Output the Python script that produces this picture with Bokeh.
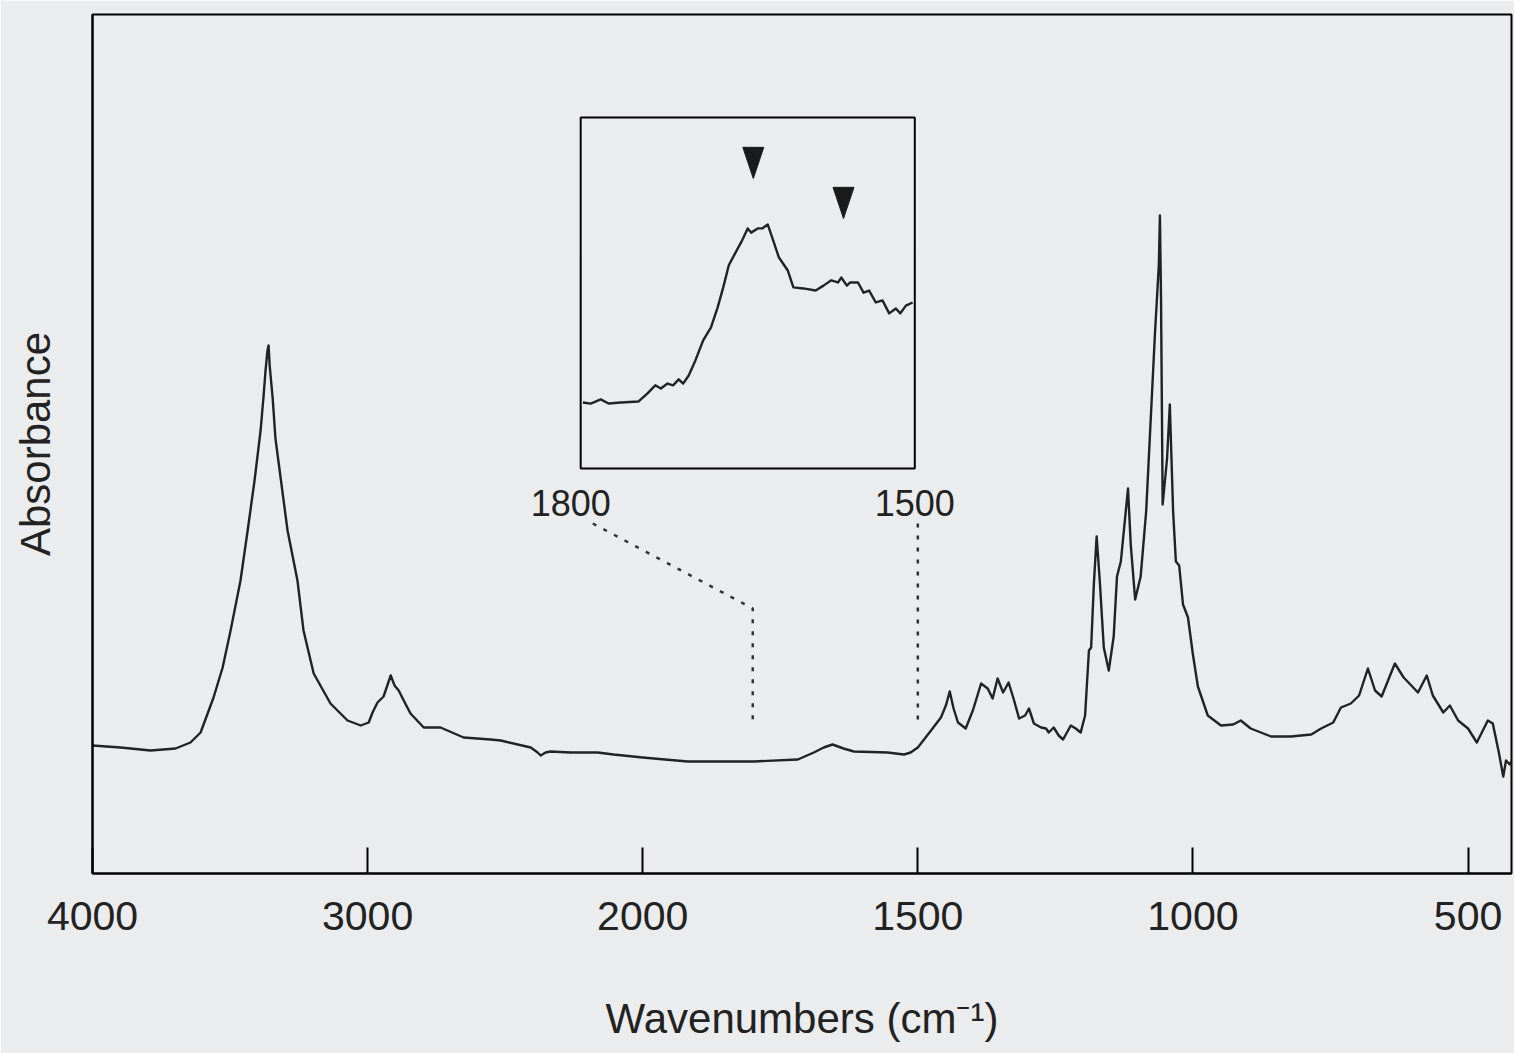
import numpy as np
from bokeh.plotting import figure
from bokeh.models import Range1d, FixedTicker
from bokeh.core.properties import value
from bokeh.embed import file_html
from bokeh.resources import INLINE

# ---------------- data ----------------
wavenumber = [4000, 3898, 3789, 3698, 3644, 3607, 3560, 3527, 3498, 3462, 3436, 3411, 3389, 3378,
              3371, 3364, 3360, 3356, 3345, 3335, 3291, 3255, 3233, 3196, 3135, 3073, 3025, 2996,
              2982, 2964, 2942, 2916, 2902, 2887, 2865, 2844, 2796, 2735, 2651, 2553, 2516, 2407,
              2382, 2371, 2353, 2335, 2262, 2164, 2106, 2000, 1980, 1918, 1798, 1718, 1689, 1671,
              1655, 1635, 1616, 1555, 1525, 1513, 1500, 1476, 1458, 1449, 1442, 1435, 1427, 1413,
              1400, 1385, 1373, 1364, 1355, 1345, 1335, 1325, 1316, 1305, 1298, 1289, 1276, 1267,
              1262, 1253, 1244, 1236, 1229, 1222, 1213, 1204, 1196, 1189, 1185, 1180, 1175, 1169,
              1162, 1153, 1144, 1138, 1131, 1118, 1113, 1105, 1095, 1085, 1076, 1069, 1062, 1060,
              1058, 1055, 1047, 1042, 1036, 1031, 1025, 1018, 1009, 1000, 991, 973, 949, 927, 913,
              895, 858, 822, 785, 767, 745, 731, 713, 698, 682, 669, 657, 633, 617, 591, 575, 564,
              545, 533, 518, 500, 484, 464, 455, 444, 436, 431, 424, 421]
absorbance = [0.128, 0.126, 0.123, 0.125, 0.131, 0.141, 0.176, 0.206, 0.243, 0.293, 0.343, 0.393, 0.443, 0.478,
              0.503, 0.523, 0.528, 0.508, 0.475, 0.435, 0.343, 0.293, 0.243, 0.200, 0.170, 0.153, 0.148, 0.151,
              0.161, 0.171, 0.177, 0.198, 0.188, 0.183, 0.171, 0.160, 0.146, 0.146, 0.136, 0.134, 0.133, 0.126,
              0.121, 0.118, 0.121, 0.122, 0.121, 0.121, 0.119, 0.116, 0.115, 0.112, 0.112, 0.114, 0.121, 0.126,
              0.129, 0.125, 0.122, 0.121, 0.119, 0.121, 0.126, 0.143, 0.156, 0.168, 0.182, 0.165, 0.151, 0.145,
              0.163, 0.190, 0.185, 0.175, 0.195, 0.181, 0.191, 0.173, 0.155, 0.158, 0.165, 0.150, 0.146, 0.145,
              0.141, 0.146, 0.138, 0.134, 0.141, 0.148, 0.145, 0.141, 0.158, 0.223, 0.226, 0.290, 0.337, 0.290,
              0.226, 0.203, 0.237, 0.297, 0.312, 0.385, 0.329, 0.274, 0.297, 0.362, 0.462, 0.540, 0.608, 0.658,
              0.576, 0.369, 0.415, 0.469, 0.362, 0.312, 0.308, 0.269, 0.256, 0.219, 0.187, 0.158, 0.148, 0.149, 0.153,
              0.145, 0.137, 0.137, 0.139, 0.145, 0.151, 0.166, 0.170, 0.178, 0.205, 0.183, 0.177, 0.210, 0.196, 0.181, 0.198, 0.178,
              0.161, 0.168, 0.153, 0.145, 0.131, 0.153, 0.150, 0.121, 0.097, 0.113, 0.109, 0.112]

inset_wavenumber = [1798, 1791, 1782, 1775, 1764, 1748, 1740, 1733, 1728, 1722, 1717, 1712, 1708, 1703,
                    1697, 1690, 1683, 1677, 1672, 1667, 1661, 1655, 1650, 1647, 1641, 1637, 1632, 1628,
                    1622, 1614, 1609, 1600, 1589, 1582, 1575, 1569, 1566, 1561, 1558, 1551, 1546, 1541,
                    1535, 1529, 1523, 1517, 1513, 1508, 1502]
inset_absorbance = [0.188, 0.185, 0.197, 0.185, 0.188, 0.191, 0.214, 0.237, 0.228, 0.242, 0.237, 0.254, 0.242, 0.265,
                    0.308, 0.365, 0.402, 0.459, 0.516, 0.579, 0.615, 0.650, 0.684, 0.672, 0.684, 0.684, 0.695, 0.658,
                    0.601, 0.564, 0.516, 0.513, 0.507, 0.521, 0.536, 0.530, 0.544, 0.521, 0.530, 0.530, 0.501, 0.507,
                    0.473, 0.479, 0.442, 0.456, 0.442, 0.464, 0.473]

arrow_wavenumber = [1645, 1564]
arrow_tip_level = [0.826, 0.712]

tick_values = [4000, 3000, 2000, 1500, 1000, 500]
tick_labels = ["4000", "3000", "2000", "1500", "1000", "500"]
inset_tick_values = [1800, 1500]
inset_tick_labels = ["1800", "1500"]

# ---------------- styling / layout constants ----------------
PAPER = "#ebeced"
INK = "#222222"
FONT = "Liberation Sans"
X_START, X_END = 4000, 421
INSET_X = (1800, 1500)
INSET_TARGET_X = (1.7745, 2.989)
INSET_TARGET_Y = (0.405, 0.756)
ARROW_HALF_WIDTH = 9.4      # inset wavenumber units
ARROW_HEIGHT = 0.089        # inset level units
LEADER_TOP, LEADER_KNEE, LEADER_BOTTOM = 0.350, 0.265, 0.154
LEADER_START_SHIFT = 0.044


def to_axis(w):
    """Split wavenumber scale: 1000 cm-1 per unit above 2000, 500 cm-1 per unit below."""
    w = np.asarray(w, dtype=float)
    return np.where(w >= 2000, (4000 - w) / 1000.0, 2 + (2000 - w) / 500.0)


p = figure(width=1514, height=1053, output_backend="svg", toolbar_location=None,
           x_range=Range1d(float(to_axis(X_START)), float(to_axis(X_END))),
           y_range=Range1d(0, 0.859),
           min_border_left=92, min_border_right=3, min_border_top=14, min_border_bottom=180)
p.background_fill_color = PAPER
p.border_fill_color = PAPER
p.outline_line_color = "black"
p.outline_line_width = 2
p.xgrid.visible = False
p.ygrid.visible = False

# x axis
tick_pos = [float(v) for v in to_axis(tick_values)]
p.xaxis.ticker = FixedTicker(ticks=tick_pos)
p.xaxis.major_label_overrides = {pos: lbl for pos, lbl in zip(tick_pos, tick_labels)}
p.xaxis.minor_tick_line_color = None
p.xaxis.major_tick_in = 26
p.xaxis.major_tick_out = 0
p.xaxis.major_tick_line_width = 2
p.xaxis.major_tick_line_color = "black"
p.xaxis.axis_line_width = 2
p.xaxis.axis_line_color = "black"
p.xaxis.major_label_text_font = FONT
p.xaxis.major_label_text_font_size = "41px"
p.xaxis.major_label_text_color = INK
p.xaxis.major_label_standoff = 28
p.xaxis.axis_label = "Wavenumbers (cm\u207b\u00b9)"
p.xaxis.axis_label_text_font = FONT
p.xaxis.axis_label_text_font_style = "normal"
p.xaxis.axis_label_text_font_size = "42px"
p.xaxis.axis_label_text_color = INK
p.xaxis.axis_label_standoff = 62

# y axis
p.yaxis.ticker = FixedTicker(ticks=[])
p.yaxis.minor_tick_line_color = None
p.yaxis.major_tick_line_color = None
p.yaxis.axis_line_width = 2
p.yaxis.axis_line_color = "black"
p.yaxis.axis_label = "Absorbance"
p.yaxis.axis_label_text_font = FONT
p.yaxis.axis_label_text_font_style = "normal"
p.yaxis.axis_label_text_font_size = "42px"
p.yaxis.axis_label_text_color = INK
p.yaxis.axis_label_standoff = 34

# main spectrum
p.line(to_axis(wavenumber), absorbance, line_color=INK, line_width=2.4, line_join="round")

# leader lines from inset labels down to the spectrum
x1800 = float(to_axis(inset_tick_values[0]))
x1500 = float(to_axis(inset_tick_values[1]))
p.line([INSET_TARGET_X[0] + LEADER_START_SHIFT, x1800, x1800],
       [LEADER_TOP, LEADER_KNEE, LEADER_BOTTOM],
       line_color="#333333", line_width=2.5, line_dash="4 8")
p.line([x1500, x1500], [LEADER_TOP, LEADER_BOTTOM],
       line_color="#333333", line_width=2.5, line_dash="4 8")

# inset (sub-coordinates)
inset = p.subplot(x_source=Range1d(*INSET_X), y_source=Range1d(0, 1),
                  x_target=Range1d(*INSET_TARGET_X), y_target=Range1d(*INSET_TARGET_Y))
inset.quad(left=[INSET_X[0]], right=[INSET_X[1]], bottom=[0], top=[1],
           fill_color=PAPER, line_color="black", line_width=2)
inset.line(inset_wavenumber, inset_absorbance, line_color=INK, line_width=2.4, line_join="round")

arrow_xs = [[w - ARROW_HALF_WIDTH, w + ARROW_HALF_WIDTH, w] for w in arrow_wavenumber]
arrow_ys = [[t + ARROW_HEIGHT, t + ARROW_HEIGHT, t] for t in arrow_tip_level]
inset.patches(arrow_xs, arrow_ys, fill_color="#1a1a1a", line_color="#1a1a1a", line_width=1)

inset.text(x=inset_tick_values, y=[-0.097, -0.097], text=inset_tick_labels,
           x_offset=[-10, 0], text_align="center", text_baseline="middle",
           text_font=value(FONT), text_font_size="36px", text_color=INK)

open("out.html", "w").write(file_html(p, INLINE))
